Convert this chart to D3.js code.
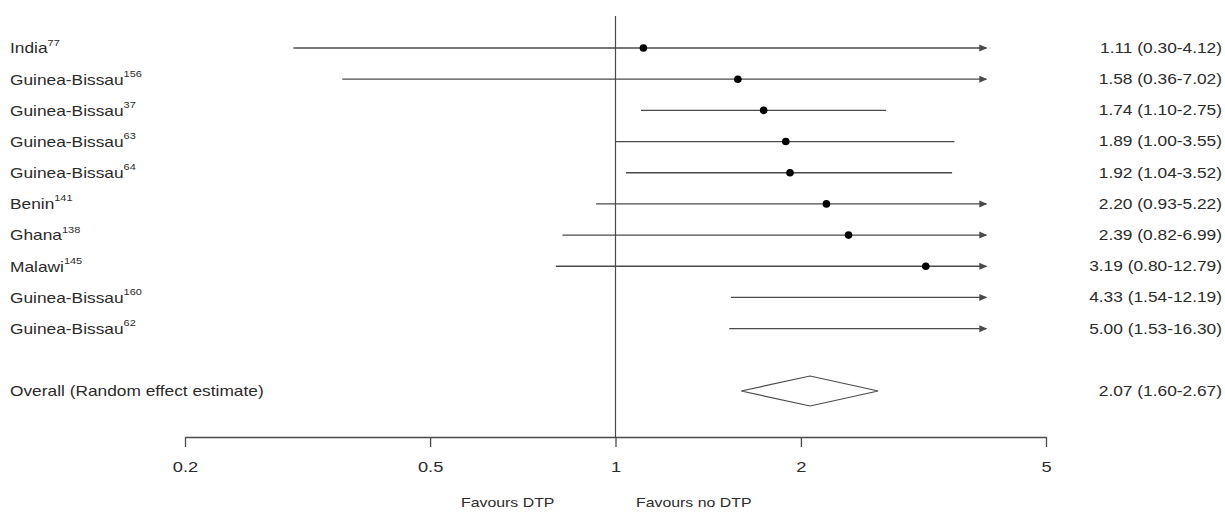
<!DOCTYPE html>
<html>
<head>
<meta charset="utf-8">
<script src="https://cdn.jsdelivr.net/npm/d3@7"></script>
<style>
  body { margin: 0; background: #fff; }
  svg { display: block; font-family: "Liberation Sans", Arial, sans-serif; }
</style>
</head>
<body>
<svg id="forest" width="1225" height="517"></svg>
<script>
// study data
const studies = ["India", "Guinea-Bissau", "Guinea-Bissau", "Guinea-Bissau", "Guinea-Bissau",
  "Benin", "Ghana", "Malawi", "Guinea-Bissau", "Guinea-Bissau"];
const refs = ["77", "156", "37", "63", "64", "141", "138", "145", "160", "62"];
const estimates = [1.11, 1.58, 1.74, 1.89, 1.92, 2.20, 2.39, 3.19, 4.33, 5.00];
const lower = [0.30, 0.36, 1.10, 1.00, 1.04, 0.93, 0.82, 0.80, 1.54, 1.53];
const upper = [4.12, 7.02, 2.75, 3.55, 3.52, 5.22, 6.99, 12.79, 12.19, 16.30];

const overallLabel = "Overall (Random effect estimate)";
const overallValues = [2.07, 1.60, 2.67]; // estimate, lower, upper

const tickValues = [0.2, 0.5, 1, 2, 5];
const favourLabels = ["Favours DTP", "Favours no DTP"];

const svg = d3.select("#forest");
const stretch = 1.22; // the picture is a bit wider than tall
const lineColor = "#4a4a4a";
const textColor = "#2b2b2b";

const x = d3.scaleLog().domain([0.2, 5]).range([185, 1046]);
const y = d3.scaleLinear().domain([0, 11]).range([48, 391]);
const clipMax = 4;

const fmt = v => v.toFixed(2);

// arrow head
svg.append("defs").append("marker")
  .attr("id", "arrow")
  .attr("viewBox", "0 0 8 8")
  .attr("refX", 7).attr("refY", 4)
  .attr("markerWidth", 8).attr("markerHeight", 8)
  .attr("markerUnits", "userSpaceOnUse")
  .attr("orient", "auto")
  .append("path")
  .attr("d", "M0,0.5 L8,4 L0,7.5 Z")
  .attr("fill", lineColor);

// reference line at 1
svg.append("line")
  .attr("x1", x(1)).attr("x2", x(1))
  .attr("y1", 16).attr("y2", 437)
  .attr("stroke", lineColor).attr("stroke-width", 1.2);

const rows = studies.map((s, i) => ({
  name: s, ref: refs[i], est: estimates[i], lo: lower[i], hi: upper[i], i: i
}));

// CI lines
svg.selectAll("line.ci")
  .data(rows)
  .enter().append("line")
  .attr("class", "ci")
  .attr("x1", d => x(d.lo))
  .attr("x2", d => x(Math.min(d.hi, clipMax)))
  .attr("y1", d => y(d.i)).attr("y2", d => y(d.i))
  .attr("stroke", lineColor).attr("stroke-width", 1.3)
  .attr("marker-end", d => d.hi > clipMax ? "url(#arrow)" : null);

// points
svg.selectAll("circle.pt")
  .data(rows.filter(d => d.est <= clipMax))
  .enter().append("circle")
  .attr("class", "pt")
  .attr("cx", d => x(d.est))
  .attr("cy", d => y(d.i))
  .attr("r", 3.8)
  .attr("fill", "#000");

// overall diamond
const oy = y(11);
svg.append("path")
  .attr("d", `M${x(overallValues[1])},${oy} L${x(overallValues[0])},${oy - 15} L${x(overallValues[2])},${oy} L${x(overallValues[0])},${oy + 15} Z`)
  .attr("fill", "#fff")
  .attr("stroke", lineColor).attr("stroke-width", 1.2);

// helper for stretched text
function label(xPos, yPos, anchor, size) {
  return svg.append("g")
    .attr("transform", `translate(${xPos},${yPos}) scale(${stretch},1)`)
    .append("text")
    .attr("text-anchor", anchor)
    .attr("dominant-baseline", "central")
    .attr("font-size", size)
    .attr("fill", textColor);
}

// study labels with superscripts
rows.forEach(d => {
  const t = label(10, y(d.i), "start", 14.2);
  t.append("tspan").text(d.name);
  t.append("tspan").attr("font-size", 9).attr("dy", -6).text(d.ref);
  label(1222, y(d.i), "end", 14.2)
    .text(`${fmt(d.est)} (${fmt(d.lo)}-${fmt(d.hi)})`);
});

label(10, oy, "start", 14.2).text(overallLabel);
label(1222, oy, "end", 14.2)
  .text(`${fmt(overallValues[0])} (${fmt(overallValues[1])}-${fmt(overallValues[2])})`);

// x axis
const axis = svg.append("g")
  .attr("transform", "translate(0,437)")
  .call(d3.axisBottom(x).tickValues(tickValues).tickFormat(d => String(d)).tickSize(10).tickPadding(14).tickSizeOuter(0));
axis.select(".domain").attr("stroke", lineColor).attr("stroke-width", 1.3);
axis.selectAll(".tick line").attr("stroke", lineColor).attr("stroke-width", 1.3);
axis.selectAll(".tick text")
  .attr("font-size", 15)
  .attr("font-family", "'Liberation Sans', Arial, sans-serif")
  .attr("fill", textColor)
  .attr("transform", `scale(${stretch},1)`);

// favours labels
label(461, 503, "start", 13).text(favourLabels[0]);
label(636, 503, "start", 13).text(favourLabels[1]);
</script>
</body>
</html>
